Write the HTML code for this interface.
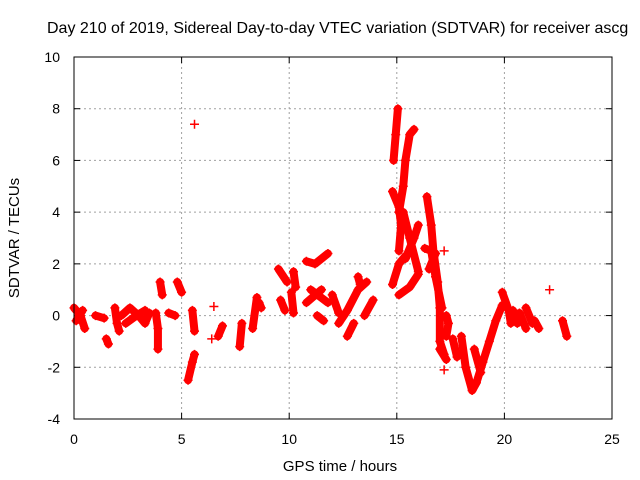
<!DOCTYPE html>
<html><head><meta charset="utf-8"><style>
body{margin:0;background:#fff}
svg{display:block;font-family:"Liberation Sans",sans-serif}
</style></head><body>
<svg id="c" width="640" height="480"></svg>
<script>
const xTicks=[0,5,10,15,20,25];
const yTicks=[-4,-2,0,2,4,6,8,10];
const tracks=[
[[0,0.3],[0.3,0],[0.5,-0.5]],[[0.1,-0.2],[0.4,0.2]],
[[1,0],[1.4,-0.1]],[[1.5,-0.9],[1.6,-1.1]],
[[1.9,0.3],[2.0,-0.3],[2.1,-0.6]],
[[2.2,0],[2.6,0.3],[3,0],[3.3,-0.3],[3.5,0.1]],[[2.4,-0.3],[2.9,0],[3.3,0.2]],
[[3.8,0.1],[3.9,-0.5],[3.9,-1.3]],[[4,1.3],[4.1,0.8]],[[4.4,0.1],[4.7,0]],
[[4.8,1.3],[5,0.9]],[[5.3,-2.5],[5.5,-1.8],[5.6,-1.5]],[[5.5,0.2],[5.6,-0.6]],
[[5.6,7.4]],[[6.5,0.35]],[[6.4,-0.9]],
[[6.7,-0.8],[6.9,-0.4]],[[7.7,-1.2],[7.8,-0.3]],
[[8.3,-0.5],[8.5,0.7]],[[8.6,0.5],[8.7,0.3]],
[[9.5,1.8],[9.9,1.3]],[[9.6,0.6],[9.8,0.2]],[[10.2,1.7],[10.3,1.1]],[[10.1,0.9],[10.2,0.1]],
[[10.8,2.1],[11.2,2.0],[11.8,2.4]],[[10.8,0.5],[11.5,1]],[[11,1],[11.8,0.5]],[[11.3,0],[11.6,-0.2]],
[[12,0.8],[12.3,0.1]],[[12.3,-0.3],[12.7,0.2],[13.2,1.0],[13.6,1.3]],
[[12.7,-0.8],[13,-0.3]],[[13.5,0],[13.9,0.6]],[[13.2,1.5],[13.3,1.2]],
[[14.85,6],[14.95,7],[15.05,8]],[[14.8,4.8],[15.1,4.2],[15.2,3.5],[15.1,2.5]],
[[15.1,4],[15.3,5],[15.4,6],[15.6,7],[15.8,7.2]],
[[15.3,4],[15.6,3],[16,1.7]],[[15.4,2.2],[15.8,3],[16,3.5]],
[[14.8,1.2],[15.1,2],[15.4,2.3]],[[15.1,0.8],[15.6,1.1],[16.0,1.6]],
[[16.4,4.6],[16.6,3.5],[16.7,2.5],[16.9,1.3],[17,0.3],[17,-1],[17.2,-1.5]],
[[16.3,2.6],[16.6,2.5],[16.8,1.5],[17.1,0.3]],[[16.5,1.8],[16.8,2.4]],[[17.2,2.5]],
[[17.3,0],[17.4,-0.3],[17.3,-0.8]],[[17,-1.3],[17.3,-1.7]],
[[17.2,-2.1]],[[17.6,-0.9],[17.8,-1.6]],
[[18,-0.8],[18.2,-2],[18.5,-2.9],[18.7,-2.6],[19,-1.8],[19.3,-1],[19.6,-0.2],[19.9,0.4]],
[[18.6,-1.3],[18.9,-2.2]],
[[19.9,0.9],[20.2,0.2],[20.3,-0.3]],[[20.4,0.2],[20.6,-0.3]],[[20.7,0.1],[21,-0.5]],
[[21,0.3],[21.3,-0.3]],[[21.4,-0.2],[21.6,-0.5]],[[22.1,1]],[[22.7,-0.2],[22.9,-0.8]]
];
const NS='http://www.w3.org/2000/svg';
const svg=document.getElementById('c');
const X0=74,X1=612,Y0=419,Y1=57;
const sx=t=>X0+(t-0)/25*(X1-X0);
const sy=v=>Y0-(v+4)/14*(Y0-Y1);
function mk(tag,a,p){const e=document.createElementNS(NS,tag);for(const k in a)e.setAttribute(k,a[k]);(p||svg).appendChild(e);return e;}
const grid=mk('g',{});


xTicks.forEach(t=>{
 if(t>0&&t<25)mk('line',{x1:sx(t),x2:sx(t),y1:Y1,y2:Y0,stroke:'#a0a0a0','stroke-dasharray':'2,3'},grid);
 mk('line',{x1:sx(t),x2:sx(t),y1:Y0,y2:Y0-6,stroke:'#000'},grid);
 mk('line',{x1:sx(t),x2:sx(t),y1:Y1,y2:Y1+6,stroke:'#000'},grid);
 const l=mk('text',{x:sx(t),y:Y0+25,'text-anchor':'middle','font-size':14},grid);l.textContent=t;
 
 
});
yTicks.forEach(v=>{
 if(v>-4&&v<10)mk('line',{x1:X0,x2:X1,y1:sy(v),y2:sy(v),stroke:'#a0a0a0','stroke-dasharray':'2,3'},grid);
 mk('line',{x1:X0,x2:X0+6,y1:sy(v),y2:sy(v),stroke:'#000'},grid);
 mk('line',{x1:X1,x2:X1-6,y1:sy(v),y2:sy(v),stroke:'#000'},grid);
 const l=mk('text',{x:X0-14,y:sy(v)+5,'text-anchor':'end','font-size':14},grid);l.textContent=v;
 
 
});
const series=mk('g',{fill:'none',stroke:'#f00'});


tracks.forEach(tr=>{
 if(tr.length>1){
  const pl=mk('polyline',{points:tr.map(p=>sx(p[0])+','+sy(p[1])).join(' '),'stroke-width':8,'stroke-linejoin':'round','stroke-linecap':'round'},series);
  
  
 }
 tr.forEach(p=>{
  const x=sx(p[0]),y=sy(p[1]);
  const m=mk('path',{d:`M${x-4.5},${y}h9M${x},${y-4.5}v9`,'stroke-width':1.5},series);
  
  
 });
});
const border=mk('rect',{x:X0,y:Y1,width:X1-X0,height:Y0-Y1,fill:'none',stroke:'#000'});


const title=mk('text',{x:47,y:33,'text-anchor':'start','font-size':16});
title.textContent='Day 210 of 2019, Sidereal Day-to-day VTEC variation (SDTVAR) for receiver ascg';


const xt=mk('text',{x:340,y:471,'text-anchor':'middle','font-size':15});
xt.textContent='GPS time / hours';


const yt=mk('text',{x:0,y:0,'text-anchor':'middle','font-size':15,transform:'translate(19,238) rotate(-90)'});
yt.textContent='SDTVAR / TECUs';


</script>
</body></html>
